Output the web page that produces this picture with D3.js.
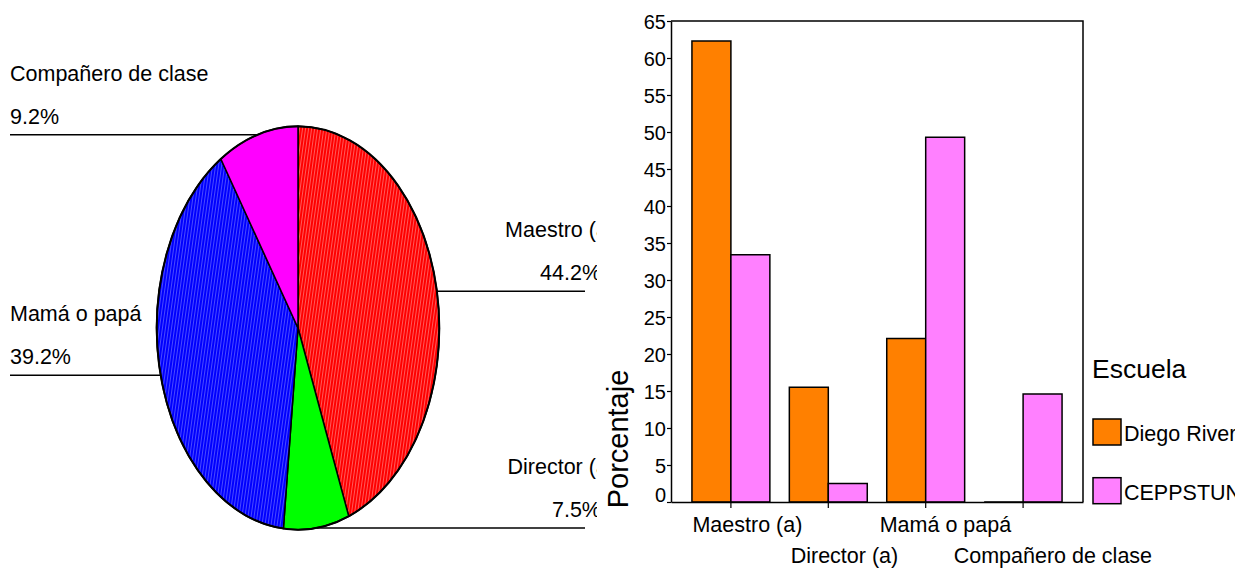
<!DOCTYPE html>
<html>
<head>
<meta charset="utf-8">
<script src="https://cdn.jsdelivr.net/npm/d3@7"></script>
<style>
  html, body { margin: 0; padding: 0; background: #fff; }
  svg { display: block; font-family: Arial, "Liberation Sans", sans-serif; }
  text { fill: #000; }
</style>
</head>
<body>
<svg id="chart" width="1235" height="569"></svg>
<script>
// ---- Data ----
const pieCategories = ["Maestro (a)", "Director (a)", "Mamá o papá", "Compañero de clase"];
const pieValues = [44.2, 7.5, 39.2, 9.2];
const pieColors = ["#ff0000", "#00ff00", "#0000ff", "#ff00ff"];
const pieLight = ["#ff5a5a", "#00ff00", "#4a4aff", "#ff00ff"];

const barCategories = ["Maestro (a)", "Director (a)", "Mamá o papá", "Compañero de clase"];
const seriesNames = ["Diego Rivera", "CEPPSTUNAM"];
const diegoRivera = [62.3, 15.5, 22.1, 0];
const ceppstunam = [33.4, 2.5, 49.3, 14.6];
const seriesColors = ["#ff8000", "#ff80ff"];
const yTicks = [0, 5, 10, 15, 20, 25, 30, 35, 40, 45, 50, 55, 60, 65];

const svg = d3.select("#chart");
const defs = svg.append("defs");

// textured fills for pie slices
pieColors.forEach((c, i) => {
  const p = defs.append("pattern").attr("id", "pat" + i)
    .attr("patternUnits", "userSpaceOnUse").attr("width", 3).attr("height", 6)
    .attr("patternTransform", "rotate(8)");
  p.append("rect").attr("width", 3).attr("height", 6).attr("fill", c);
  p.append("rect").attr("x", 2).attr("width", 1).attr("height", 6).attr("fill", pieLight[i]);
});
defs.append("clipPath").attr("id", "leftClip")
  .append("rect").attr("x", 0).attr("y", 0).attr("width", 597).attr("height", 569);

// ---- Pie (elliptical) ----
const cx = 298, cy = 328, rx = 141.3, ry = 201.7;
const pie = d3.pie().sort(null).value(d => d)(pieValues);
const pt = a => [cx + rx * Math.sin(a), cy - ry * Math.cos(a)];

const pieG = svg.append("g").attr("clip-path", "url(#leftClip)");

// leader lines + labels
pie.forEach((s, i) => {
  const m = (s.startAngle + s.endAngle) / 2;
  const [px, py] = pt(m);
  const right = Math.sin(m) > 0;
  pieG.append("line")
    .attr("x1", right ? px : 10).attr("x2", right ? 585 : px)
    .attr("y1", py).attr("y2", py)
    .attr("stroke", "#000").attr("stroke-width", 1.5);
  pieG.append("text")
    .attr("x", right ? 615 : 10).attr("y", py - 54)
    .attr("text-anchor", right ? "end" : "start")
    .attr("font-size", 21.5).text(pieCategories[i]);
  pieG.append("text")
    .attr("x", right ? 601 : 10).attr("y", py - 11)
    .attr("text-anchor", right ? "end" : "start")
    .attr("font-size", 21.5).text(d3.format(".1f")(pieValues[i]) + "%");
});

pie.forEach((s, i) => {
  const p = d3.path();
  const [x0, y0] = pt(s.startAngle);
  const [x1, y1] = pt(s.endAngle);
  p.moveTo(cx, cy);
  p.lineTo(x0, y0);
  const large = (s.endAngle - s.startAngle) > Math.PI ? 1 : 0;
  const d = p.toString() + ` A${rx},${ry} 0 ${large} 1 ${x1},${y1} Z`;
  pieG.append("path").attr("d", d)
    .attr("fill", "url(#pat" + i + ")")
    .attr("stroke", "#000").attr("stroke-width", 1.5).attr("stroke-linejoin", "round");
});
pieG.append("ellipse").attr("cx", cx).attr("cy", cy).attr("rx", rx).attr("ry", ry)
  .attr("fill", "none").attr("stroke", "#000").attr("stroke-width", 2);

// ---- Bar chart ----
const L = 671, R = 1083, T = 21, B = 502;
const x0 = d3.scaleBand().domain(barCategories).range([L, R]).paddingInner(0.2).paddingOuter(0.215);
const x1 = d3.scaleBand().domain(seriesNames).range([0, x0.bandwidth()]);
const y = d3.scaleLinear().domain([0, 65]).range([B, T]);

const g = svg.append("g");
// frame
g.append("path").attr("d", `M${L},${T} H${R} V${B}`).attr("fill", "none")
  .attr("stroke", "#000").attr("stroke-width", 1.5);

const seriesData = [diegoRivera, ceppstunam];
barCategories.forEach((cat, ci) => {
  seriesNames.forEach((sn, si) => {
    const xa = x0(cat) + x1(sn), xb = xa + x1.bandwidth();
    const ya = y(0), yb = y(seriesData[si][ci]);
    g.append("path")
      .attr("d", `M${xa},${ya} V${yb} H${xb} V${ya} Z`)
      .attr("fill", seriesColors[si]).attr("stroke", "#000").attr("stroke-width", 1.5);
  });
});

// y axis
const yAxis = g.append("g").attr("transform", `translate(${L},0)`)
  .call(d3.axisLeft(y).tickValues(yTicks).tickSize(4).tickPadding(1).tickSizeOuter(0));
yAxis.select(".domain").attr("stroke-width", 1.5);
yAxis.selectAll(".tick line").attr("stroke-width", 1.2);
yAxis.selectAll("text").attr("font-size", 20).attr("font-family", "Arial, 'Liberation Sans', sans-serif").attr("fill", "#000")
  .attr("dy", d => d === 0 ? "-0.05em" : "0.35em");

// x axis
const xAxis = g.append("g").attr("transform", `translate(0,${B})`)
  .call(d3.axisBottom(x0).tickSize(6).tickSizeOuter(0));
xAxis.select(".domain").attr("stroke-width", 1.5);
xAxis.selectAll(".tick line").attr("stroke-width", 1.2);
xAxis.selectAll("text").attr("font-size", 21.5).attr("font-family", "Arial, 'Liberation Sans', sans-serif").attr("fill", "#000")
  .attr("dy", null)
  .attr("y", (d, i) => i % 2 === 0 ? 30 : 61)
  .attr("text-anchor", "start")
  .attr("x", function () { return -0.35 * this.getComputedTextLength(); });

// y label
svg.append("text").attr("transform", "translate(628,439) rotate(-90)")
  .attr("text-anchor", "middle").attr("font-size", 29).text("Porcentaje");

// legend
svg.append("text").attr("x", 1092).attr("y", 378).attr("font-size", 26.5).text("Escuela");
seriesNames.forEach((sn, i) => {
  const yy = 419 + i * 58.7;
  svg.append("rect").attr("x", 1093).attr("y", yy).attr("width", 28).attr("height", 26)
    .attr("fill", seriesColors[i]).attr("stroke", "#000").attr("stroke-width", 1.5);
  svg.append("text").attr("x", 1124).attr("y", yy + 22).attr("font-size", 21.5).text(sn);
});
</script>
</body>
</html>
